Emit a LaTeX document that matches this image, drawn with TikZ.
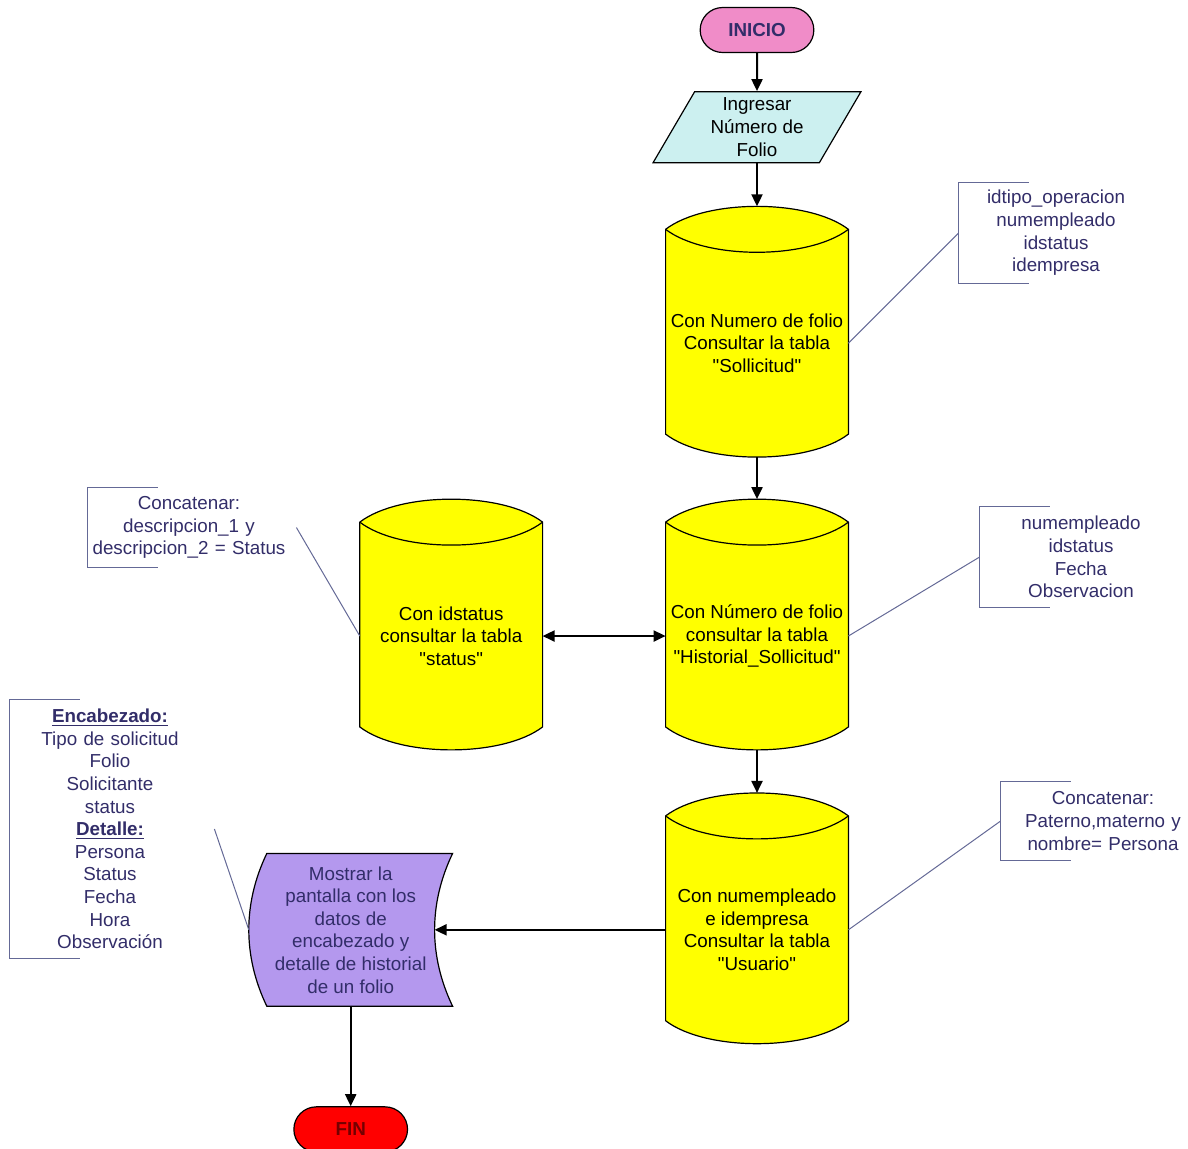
\documentclass[tikz,border=0pt]{standalone}
\usepackage{fontspec}
\setmainfont{Liberation Sans}
\usetikzlibrary{positioning, shapes.geometric, shapes.misc, arrows.meta, backgrounds}

\definecolor{rosa}{RGB}{240,140,200}
\definecolor{celeste}{RGB}{204,240,240}
\definecolor{amarillo}{RGB}{255,255,0}
\definecolor{lila}{RGB}{180,152,238}
\definecolor{rojo}{RGB}{255,0,0}
\definecolor{tinta}{RGB}{50,45,105}
\definecolor{gris}{RGB}{100,105,150}

% straight double quote
\newcommand{\cq}{\textquotedbl}
% cylinder outline round a tabla node (north = rim, south = bottom)
\newcommand{\cilindro}[1]{%
  \filldraw[cuerpo] (#1.north west)
    .. controls ([shift={(20pt,15.3pt)}]#1.north west) and ([shift={(-20pt,15.3pt)}]#1.north east) .. (#1.north east)
    -- ([yshift=11.5pt]#1.south east)
    .. controls ([shift={(-20pt,-3.8pt)}]#1.south east) and ([shift={(20pt,-3.8pt)}]#1.south west) .. ([yshift=11.5pt]#1.south west)
    -- cycle;
  \draw[cuerpo] (#1.north west)
    .. controls ([shift={(20pt,-15.3pt)}]#1.north west) and ([shift={(-20pt,-15.3pt)}]#1.north east) .. (#1.north east);
}
% bracket on the left of a note
\newcommand{\corchete}[1]{%
  \draw[gris, line width=0.6pt] ([xshift=35pt]#1.north west) -- (#1.north west) -- (#1.south west) -- ([xshift=35pt]#1.south west);
}

\begin{document}
\begin{tikzpicture}[
    x=0.5pt, y=-0.5pt,
    font=\fontsize{9.4}{11.3}\selectfont,
    terminal/.style={rounded rectangle, draw, line width=0.6pt, minimum width=63.5pt, minimum height=22.5pt,
        font=\fontsize{9.4}{11.3}\selectfont\bfseries},
    entrada/.style={trapezium, trapezium left angle=62, trapezium right angle=118, trapezium stretches=true,
        draw, line width=0.6pt, fill=celeste, minimum width=104pt, minimum height=35.5pt, inner sep=0pt, align=center},
    tabla/.style={rectangle, minimum width=91pt, minimum height=113.5pt, inner sep=0pt, align=center},
    cuerpo/.style={draw=black, line width=0.6pt, fill=amarillo},
    pantalla/.style={rectangle, minimum width=101.5pt, minimum height=76pt, inner sep=0pt, align=center, text=tinta},
    nota/.style={rectangle, inner sep=0pt, align=center, text=tinta},
    flecha/.style={-{Triangle[length=6pt, width=5.5pt]}, line width=1pt},
    doble/.style={{Triangle[length=6pt, width=5.5pt]}-{Triangle[length=6pt, width=5.5pt]}, line width=1pt},
    guia/.style={draw=gris, line width=0.5pt}
]
\useasboundingbox (0,0) rectangle (1188,1148);

% Start and input
\node[terminal, fill=rosa, text=tinta] (inicio) at (757,30) {INICIO};
\node[entrada, below=19pt of inicio] (ingreso) {Ingresar\\Número de\\Folio};

% Table lookups
\node[tabla, below=33pt of ingreso] (sol) {Con Numero de folio\\Consultar la tabla\\\cq Sollicitud\cq};
\node[tabla, below=32.5pt of sol] (hist) {Con Número de folio\\consultar la tabla\\\cq Historial\_Sollicitud\cq};
\node[tabla, left=61.5pt of hist] (status) {Con idstatus\\consultar la tabla\\\cq status\cq};
\node[tabla, below=33pt of hist] (usu) {Con numempleado\\e idempresa\\Consultar la tabla\\\cq Usuario\cq};

% Output and end
\node[pantalla, left=106.5pt of usu] (pant) {Mostrar la\\pantalla con los\\datos de\\encabezado y\\detalle de historial\\de un folio};
\node[terminal, fill=rojo, text=red!45!black, below=50pt of pant] (fin) {FIN};

% Notes
\node[nota, text width=97pt, minimum height=50pt] (n1) at (1056,233) {idtipo\_operacion\\numempleado\\idstatus\\idempresa};
\node[nota, text width=101pt, minimum height=50pt] (n2) at (1081,557) {numempleado\\idstatus\\Fecha\\Observacion};
\node[nota, text width=101pt, minimum height=39.5pt] (n3) at (189,527.5) {Concatenar:\\descripcion\_1 y\\descripcion\_2 = Status};
\node[nota, text width=102pt, minimum height=39pt] (n4) at (1103,821) {Concatenar:\\Paterno,materno y\\nombre= Persona};
\node[nota, text width=100pt, minimum height=129pt] (n5) at (110,829) {\underline{\textbf{Encabezado:}}\\Tipo de solicitud\\Folio\\Solicitante\\status\\\underline{\textbf{Detalle:}}\\Persona\\Status\\Fecha\\Hora\\Observación};

% Shapes behind the texts
\begin{pgfonlayer}{background}
  \cilindro{sol}
  \cilindro{hist}
  \cilindro{status}
  \cilindro{usu}
  \filldraw[draw=black, line width=0.6pt, fill=lila] ([xshift=9pt]pant.north west) -- (pant.north east)
    .. controls ([shift={(-12pt,-25pt)}]pant.north east) and ([shift={(-12pt,25pt)}]pant.south east) .. (pant.south east)
    -- ([xshift=9pt]pant.south west)
    .. controls ([shift={(-3pt,25pt)}]pant.south west) and ([shift={(-3pt,-25pt)}]pant.north west) .. cycle;
\end{pgfonlayer}
\corchete{n1}
\corchete{n2}
\corchete{n3}
\corchete{n4}
\corchete{n5}

% Flow
\draw[flecha] (inicio) -- (ingreso);
\draw[flecha] (ingreso.south) -- ([yshift=11.5pt]sol.north);
\draw[flecha] (sol.south) -- ([yshift=11.5pt]hist.north);
\draw[flecha] (hist.south) -- ([yshift=11.5pt]usu.north);
\draw[doble] (status.east) -- (hist.west);
\draw[flecha] (usu.west) -- ([xshift=-9pt]pant.east);
\draw[flecha] (pant.south) -- (fin.north);

% Note links
\draw[guia] (sol.east) -- (n1.west);
\draw[guia] (hist.east) -- (n2.west);
\draw[guia] (status.west) -- ([xshift=3pt]n3.east);
\draw[guia] (usu.east) -- (n4.west);
\draw[guia] (pant.west) -- ([xshift=2pt]n5.east);

\end{tikzpicture}
\end{document}
